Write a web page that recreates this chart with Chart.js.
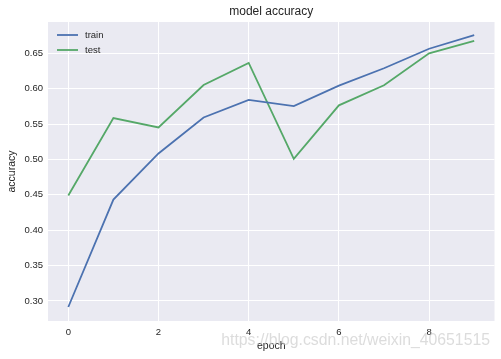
<!DOCTYPE html>
<html>
<head>
<meta charset="utf-8">
<script src="https://cdn.jsdelivr.net/npm/chart.js@4"></script>
<style>
  html, body { margin: 0; padding: 0; background: #fff; }
  #wrap { width: 501px; height: 359px; }
</style>
</head>
<body>
<div id="wrap"><canvas id="c" width="501" height="359"></canvas></div>
<script>
const epochs = [0, 1, 2, 3, 4, 5, 6, 7, 8, 9];
const train = [0.2915, 0.4433, 0.5085, 0.5594, 0.5842, 0.5755, 0.6043, 0.6289, 0.6565, 0.6759];
const test = [0.449, 0.5585, 0.5453, 0.6052, 0.6364, 0.5009, 0.5765, 0.6048, 0.65, 0.6677];
const xTicks = [0, 2, 4, 6, 8];
const yTicks = [0.30, 0.35, 0.40, 0.45, 0.50, 0.55, 0.60, 0.65];

const FONT = '"Liberation Sans", Arial, sans-serif';
const TXT = '#262626';

const labelsPlugin = {
  id: 'labels',
  afterDraw(chart) {
    const ctx = chart.ctx;
    const a = chart.chartArea;
    ctx.save();
    ctx.fillStyle = TXT;
    ctx.textAlign = 'center';
    ctx.textBaseline = 'middle';
    ctx.font = '12px ' + FONT;
    ctx.fillText('model accuracy', (a.left + a.right) / 2, 12);
    ctx.font = '10.5px ' + FONT;
    ctx.fillText('epoch', (a.left + a.right) / 2, 346);
    ctx.save();
    ctx.translate(12, (a.top + a.bottom) / 2);
    ctx.rotate(-Math.PI / 2);
    ctx.fillText('accuracy', 0, 0);
    ctx.restore();

    // legend
    ctx.textAlign = 'left';
    ctx.font = '9.5px ' + FONT;
    chart.data.datasets.forEach((ds, i) => {
      const y = 35 + i * 15;
      ctx.strokeStyle = ds.borderColor;
      ctx.lineWidth = 1.8;
      ctx.beginPath();
      ctx.moveTo(57, y);
      ctx.lineTo(78, y);
      ctx.stroke();
      ctx.fillStyle = TXT;
      ctx.fillText(ds.label, 85, y);
    });

    // watermark
    ctx.font = '15.8px ' + FONT;
    ctx.textAlign = 'right';
    ctx.fillStyle = 'rgba(205,205,205,0.7)';
    ctx.fillText('https://blog.csdn.net/weixin_40651515', 490, 341);
    ctx.restore();
  }
};

const bgPlugin = {
  id: 'bg',
  beforeDraw(chart) {
    const a = chart.chartArea;
    chart.ctx.save();
    chart.ctx.fillStyle = '#EAEAF2';
    chart.ctx.fillRect(a.left, a.top, a.right - a.left, a.bottom - a.top);
    chart.ctx.restore();
  }
};

new Chart(document.getElementById('c'), {
  type: 'line',
  data: {
    datasets: [
      { label: 'train', data: epochs.map((e, i) => ({ x: e, y: train[i] })), borderColor: '#4C72B0', borderWidth: 1.8, pointRadius: 0, tension: 0, fill: false },
      { label: 'test', data: epochs.map((e, i) => ({ x: e, y: test[i] })), borderColor: '#55A868', borderWidth: 1.8, pointRadius: 0, tension: 0, fill: false }
    ]
  },
  options: {
    responsive: false,
    animation: false,
    layout: { padding: { top: 22, right: 6.5, left: 0, bottom: 0 } },
    plugins: { legend: { display: false }, tooltip: { enabled: false } },
    scales: {
      x: {
        type: 'linear',
        min: -0.45,
        max: 9.45,
        afterBuildTicks: s => { s.ticks = xTicks.map(v => ({ value: v })); },
        afterFit: s => { s.height = 38; },
        grid: { color: '#ffffff', lineWidth: 1, drawTicks: false },
        border: { display: false },
        ticks: { color: TXT, font: { family: FONT, size: 9.5 }, padding: 6, maxRotation: 0 }
      },
      y: {
        min: 0.2717,
        max: 0.6943,
        afterBuildTicks: s => { s.ticks = yTicks.map(v => ({ value: v })); },
        afterFit: s => { s.width = 48; },
        grid: { color: '#ffffff', lineWidth: 1, drawTicks: false },
        border: { display: false },
        ticks: { color: TXT, font: { family: FONT, size: 9.5 }, padding: 5, callback: v => v.toFixed(2) }
      }
    }
  },
  plugins: [bgPlugin, labelsPlugin]
});
</script>
</body>
</html>
